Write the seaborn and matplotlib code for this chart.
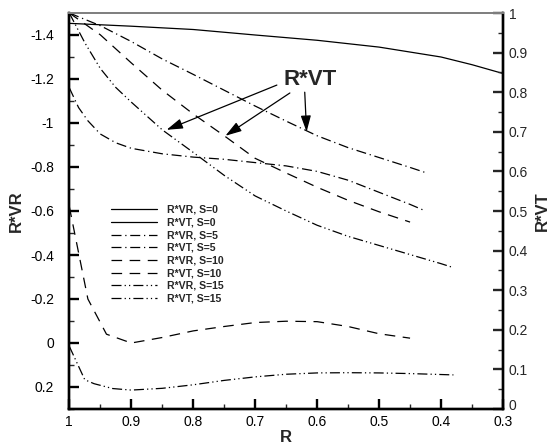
import matplotlib
matplotlib.use("Agg")
import matplotlib.pyplot as plt
import matplotlib.transforms as mtransforms
import seaborn as sns
from matplotlib.ticker import MultipleLocator, FuncFormatter

# ---------------- data ----------------
r_s0 = [1.0, 0.9, 0.8, 0.7, 0.6, 0.5, 0.4, 0.35, 0.3]
vr_s0 = [-1.453, -1.44, -1.425, -1.40, -1.376, -1.345, -1.30, -1.265, -1.225]
vt_s0 = [0.0, 0.0, 0.0, 0.0, 0.0, 0.0, 0.0, 0.0, 0.0]

r_vr5 = [1.0, 0.985, 0.97, 0.95, 0.925, 0.90, 0.85, 0.80, 0.75, 0.70, 0.65, 0.60, 0.55, 0.50, 0.45, 0.425]
vr_s5 = [-1.16, -1.07, -1.01, -0.95, -0.91, -0.885, -0.86, -0.845, -0.835, -0.82, -0.805, -0.78, -0.74, -0.685, -0.63, -0.60]
r_vt5 = [1.0, 0.95, 0.90, 0.85, 0.80, 0.75, 0.70, 0.65, 0.60, 0.55, 0.50, 0.45, 0.425]
vt_s5 = [1.0, 0.968, 0.928, 0.884, 0.845, 0.805, 0.765, 0.727, 0.69, 0.66, 0.635, 0.61, 0.597]

r_vr10 = [1.0, 0.99, 0.97, 0.94, 0.90, 0.85, 0.80, 0.75, 0.70, 0.65, 0.60, 0.55, 0.50, 0.45]
vr_s10 = [-0.62, -0.48, -0.20, -0.04, 0.0, -0.025, -0.055, -0.075, -0.093, -0.099, -0.097, -0.075, -0.042, -0.022]
r_vt10 = [1.0, 0.95, 0.90, 0.85, 0.80, 0.75, 0.70, 0.65, 0.60, 0.55, 0.50, 0.45]
vt_s10 = [1.0, 0.945, 0.874, 0.805, 0.745, 0.69, 0.633, 0.596, 0.56, 0.527, 0.498, 0.472]

r_vr15 = [1.0, 0.975, 0.96, 0.93, 0.90, 0.85, 0.80, 0.75, 0.70, 0.65, 0.60, 0.55, 0.50, 0.45, 0.38]
vr_s15 = [0.015, 0.167, 0.185, 0.207, 0.214, 0.206, 0.19, 0.17, 0.154, 0.142, 0.136, 0.135, 0.136, 0.139, 0.145]
r_vt15 = [1.0, 0.975, 0.95, 0.925, 0.90, 0.85, 0.80, 0.75, 0.70, 0.65, 0.60, 0.55, 0.50, 0.45, 0.40, 0.38]
vt_s15 = [1.0, 0.925, 0.86, 0.812, 0.775, 0.705, 0.648, 0.59, 0.538, 0.50, 0.464, 0.436, 0.413, 0.39, 0.367, 0.357]

labels = ["R*VR, S=0", "R*VT, S=0", "R*VR, S=5", "R*VT, S=5",
          "R*VR, S=10", "R*VT, S=10", "R*VR, S=15", "R*VT, S=15"]

# ---------------- style ----------------
sns.set_style("ticks")
plt.rcParams["font.family"] = ["Liberation Sans", "DejaVu Sans"]

ls_solid = "-"
ls_dashdot = (0, (8, 3, 1, 3))
ls_dashed = (0, (8.5, 6))
ls_dashdotdot = (0, (8, 2.5, 1, 2.5, 1, 2.5))

fig = plt.figure(figsize=(5.54, 4.47), dpi=100)
ax = fig.add_axes([69.3 / 554, 1 - 409 / 447, (503 - 69.3) / 554, (409 - 13) / 447])
ax2 = ax.twinx()

lw = 0.9
def draw(target, x, y, ls):
    sns.lineplot(x=x, y=y, ax=target, color="black", linewidth=lw, linestyle=ls,
                 estimator=None, sort=False, legend=False)
    return target.lines[-1]

h = []
h.append(draw(ax, r_s0, vr_s0, ls_solid))
h.append(draw(ax2, r_s0, vt_s0, ls_solid))
h.append(draw(ax, r_vr5, vr_s5, ls_dashdot))
h.append(draw(ax2, r_vt5, vt_s5, ls_dashdot))
h.append(draw(ax, r_vr10, vr_s10, ls_dashed))
h.append(draw(ax2, r_vt10, vt_s10, ls_dashed))
h.append(draw(ax, r_vr15, vr_s15, ls_dashdotdot))
h.append(draw(ax2, r_vt15, vt_s15, ls_dashdotdot))

ax.set_xlim(1, 0.3)
ax.set_ylim(0.3, -1.5)
ax2.set_ylim(0, 1)

fmt = FuncFormatter(lambda v, p: "%g" % round(v, 3))
ax.xaxis.set_major_locator(MultipleLocator(0.1))
ax.xaxis.set_minor_locator(MultipleLocator(0.05))
ax.xaxis.set_major_formatter(fmt)
ax.yaxis.set_major_locator(MultipleLocator(0.2))
ax.yaxis.set_minor_locator(MultipleLocator(0.1))
ax.yaxis.set_major_formatter(FuncFormatter(
    lambda v, p: "" if (abs(v + 1.5) < 1e-6 or abs(v - 0.3) < 1e-6) else "%g" % round(v, 3)))
ax2.yaxis.set_major_locator(MultipleLocator(0.1))
ax2.yaxis.set_minor_locator(MultipleLocator(0.05))
ax2.yaxis.set_major_formatter(fmt)

for a in (ax, ax2):
    for s in a.spines.values():
        s.set_linewidth(1.7)
        s.set_color("black")
    a.spines["top"].set_color("#808080")
    a.spines["top"].set_linewidth(1.4)
    a.set_xlabel("")
    a.set_ylabel("")

ax.tick_params(axis="both", which="major", direction="in", length=7, width=1.7,
               labelsize=10, colors="black", top=False, right=False)
ax.tick_params(axis="both", which="minor", direction="in", length=3.5, width=1.0,
               top=False, right=False)
ax.tick_params(axis="y", which="major", pad=11)
ax.tick_params(axis="x", which="major", pad=4)
ax2.tick_params(axis="y", which="major", direction="in", length=7, width=1.7,
                labelsize=10, pad=4)
ax2.tick_params(axis="y", which="minor", direction="in", length=3.5, width=1.0)

ax.set_xlabel("R", fontsize=12, fontweight="bold")
ax.xaxis.set_label_coords(0.5, -0.053)
ax.set_ylabel("R*VR", fontsize=12, fontweight="bold")
ax.yaxis.set_label_coords(-0.104, 0.5)
ax2.set_ylabel("R*VT", fontsize=12, fontweight="bold")
ax2.yaxis.set_label_coords(1.074, 0.5)

# annotation
ax2.text(0.612, 0.831, "R*VT", fontsize=16, fontweight="bold", ha="center", va="center")
arrow_kw = dict(arrowstyle="-|>,head_length=0.7,head_width=0.22", color="black",
                lw=0.9, shrinkA=0, shrinkB=0, mutation_scale=14)
ax2.annotate("", xy=(0.843, 0.705), xytext=(0.665, 0.818), arrowprops=arrow_kw)
ax2.annotate("", xy=(0.748, 0.69), xytext=(0.644, 0.798), arrowprops=arrow_kw)
ax2.annotate("", xy=(0.617, 0.70), xytext=(0.62, 0.80), arrowprops=arrow_kw)

leg = ax2.legend(h, labels, loc="upper left", bbox_to_anchor=(111 / 554, 1 - 205 / 447),
                 bbox_transform=fig.transFigure, frameon=False,
                 prop=dict(size=7.6, weight="bold"), handlelength=4.4,
                 handletextpad=0.9, labelspacing=0.25, borderpad=0, borderaxespad=0)

# nudge the right-axis "0" label slightly up, as in the reference
fig.canvas.draw()
for t in ax2.get_yticklabels():
    if t.get_text() == "0":
        t.set_transform(t.get_transform() +
                        mtransforms.ScaledTranslation(0, 3 / 72, fig.dpi_scale_trans))

fig.savefig("out.png", dpi=100)
